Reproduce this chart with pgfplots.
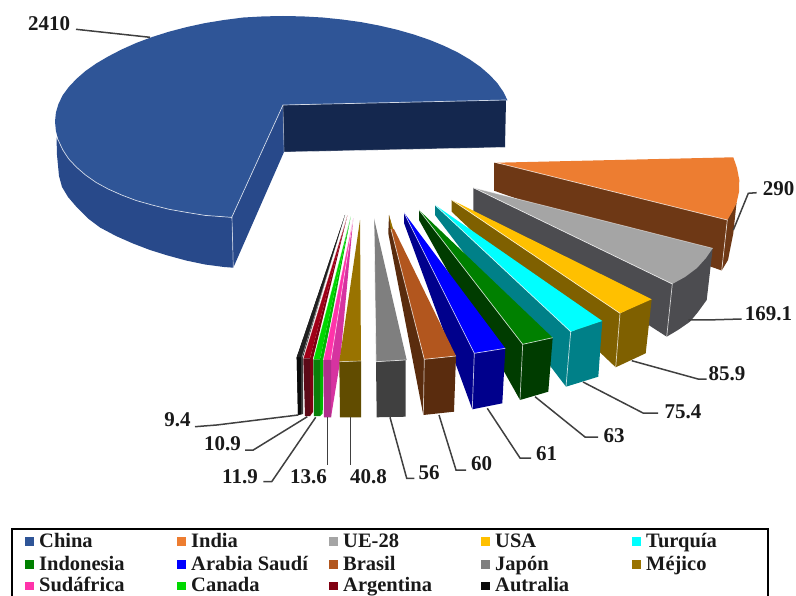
\documentclass[border=0pt]{standalone}
\usepackage{pgfplots}
\pgfplotsset{compat=1.18}
\usepackage{fontspec}
\setmainfont{Liberation Serif}
% slice colours
\definecolor{chinaT}{HTML}{2F5597}\definecolor{chinaS}{HTML}{28498A}\definecolor{chinaB}{HTML}{14274E}
\definecolor{indiaT}{HTML}{ED7D31}\definecolor{indiaS}{HTML}{6E3815}
\definecolor{ueT}{HTML}{A5A5A5}\definecolor{ueS}{HTML}{4C4C50}
\definecolor{usaT}{HTML}{FFC000}\definecolor{usaS}{HTML}{7F6000}
\definecolor{turT}{HTML}{00FFFF}\definecolor{turS}{HTML}{008088}
\definecolor{indoT}{HTML}{008000}\definecolor{indoS}{HTML}{003C00}
\definecolor{araT}{HTML}{0000FF}\definecolor{araS}{HTML}{00008C}
\definecolor{braT}{HTML}{B2561E}\definecolor{braS}{HTML}{5A2C0E}
\definecolor{japT}{HTML}{7F7F7F}\definecolor{japS}{HTML}{404040}
\definecolor{mexT}{HTML}{997300}\definecolor{mexS}{HTML}{614C00}
\definecolor{sudT}{HTML}{FF33AA}\definecolor{sudS}{HTML}{D633A0}\definecolor{sudF}{HTML}{B0308C}
\definecolor{canT}{HTML}{00D800}\definecolor{canS}{HTML}{00B800}\definecolor{canF}{HTML}{0A800A}
\definecolor{argT}{HTML}{A00018}\definecolor{argS}{HTML}{800012}\definecolor{argF}{HTML}{5C0A18}
\definecolor{ausT}{HTML}{202020}\definecolor{ausS}{HTML}{141414}\definecolor{ausF}{HTML}{0A0A0A}
\definecolor{leader}{HTML}{404040}
% a filled facet, a pale edge and a label leader, all plotted in image-like coordinates
\newcommand\facet[2]{\addplot[fill=#1,draw=none,mark=none,forget plot] coordinates {#2};}
\newcommand\edge[2][0.75]{\addplot[white,opacity=#1,line width=0.7pt,mark=none,forget plot] coordinates {#2};}
\newcommand\lead[1]{\addplot[leader,line width=1.5pt,mark=none,forget plot] coordinates {#1};}
\newcommand\val[2]{\node[font=\fontsize{21}{23}\selectfont\bfseries,text=black!90,inner sep=0pt] at (axis cs:#1) {#2};}
\newcommand\key[3]{%
  \addplot[only marks,mark=square*,mark size=3.8pt,color=#1,forget plot] coordinates {(#2)};
  \node[font=\fontsize{20.5}{22}\selectfont\bfseries,text=black!90,anchor=base west,inner sep=0pt] at (axis cs:#2) [xshift=10pt,yshift=-6pt] {#3};}
\begin{document}
\begin{tikzpicture}
\useasboundingbox (0,0) rectangle (796pt,596pt);
\begin{axis}[
  at={(0,0)}, anchor=south west,
  scale only axis, width=796pt, height=596pt,
  xmin=0, xmax=796, ymin=0, ymax=596, y dir=reverse,
  hide axis, clip=true]

% China, 2410
\facet{chinaS}{(56.5,137)(58.5,140.7)(62.8,149.9)(68.7,158.9)(76.4,167.1)(85.5,175)(96.2,182.5)(108.3,189.1)(121.8,195.1)(136.4,200.6)(152.1,205)(169,209.3)(186.6,212.4)(205,215.4)(224,216.8)(231.7,217.4)(233.3,267.7)(224,267)(205,264.5)(186,260.5)(167,255.3)(150,250)(133,243.5)(116,236)(100,227.5)(88,218.5)(77,207.5)(68,197)(62,187)(59,176)(57,155)}
\facet{chinaS}{(232,217)(283,105)(284,152)(233.3,267.7)}
\facet{chinaB}{(283,105)(506,100)(505,147.3)(284,152)}
\facet{chinaT}{(507.5,100.3)(503.2,91.6)(497.3,83.1)(489.6,74.9)(480.5,67)(469.8,59.5)(457.7,52.4)(444.2,45.9)(429.6,39.9)(413.8,34.5)(397,29.7)(379.4,25.6)(361,22.1)(342,19.5)(322.6,17.5)(302.9,16.4)(283,16)(263.1,16.4)(243.4,17.5)(224,20)(205,23.1)(186.6,27.1)(169,31.7)(152.2,37)(136.4,42.9)(121.8,49.4)(108.3,56.4)(96.2,63.5)(85.5,71)(76.4,78.9)(68.7,87.1)(62.8,95.1)(58.5,103.8)(55.9,112.6)(55,121.5)(55.9,130.9)(58.5,140.7)(62.8,149.9)(68.7,158.9)(76.4,167.1)(85.5,175)(96.2,182.5)(108.3,189.1)(121.8,195.1)(136.4,200.6)(152.1,205)(169,209.3)(186.6,212.4)(205,215.4)(224,216.8)(231.7,217.4)(283,105)}
\edge{(56.5,137)(58.5,140.7)(62.8,149.9)(68.7,158.9)(76.4,167.1)(85.5,175)(96.2,182.5)(108.3,189.1)(121.8,195.1)(136.4,200.6)(152.1,205)(169,209.3)(186.6,212.4)(205,215.4)(224,216.8)(231.7,217.4)(283,105)(506,100)}
\edge[0.6]{(232,217)(233.3,267.7)}
\edge[0.4]{(283,105)(284,152)(505,147.3)}

% India, 290
\facet{indiaS}{(494,162.7)(494,190.7)(721.7,270.5)(727.3,220)(736.5,203)}
\facet{indiaS}{(727.3,220)(736.5,203)(733.3,233.3)(728,260)(721.7,270.5)}
\facet{indiaT}{(496.7,162.7)(733.3,157.3)(737,168)(739.3,180)(739,192)(736.5,203)(732,212)(727.3,220)}
\edge{(496.7,162.7)(727.3,220)(721.7,270.5)}

% UE-28, 169.1
\facet{ueS}{(473.3,187.7)(473.3,211.7)(666.7,336.7)(678,330)(690,321.7)(698,312)(706.7,300)(712.7,248.3)(672.3,284)}
\facet{ueT}{(473.3,187.7)(712.7,248.3)(706,258)(697,268)(685,277)(672.3,284)}
\edge{(473.3,187.7)(672.3,284)(666.7,336.7)}
\edge[0.5]{(473.3,187.7)(712.7,248.3)}

% USA, 85.9
\facet{usaS}{(451.7,200)(451.7,211.7)(615.7,367.3)(645.7,353.3)(651.7,299.3)(620,313.3)}
\facet{usaT}{(451.7,200)(651.7,299.3)(620,313.3)}
\edge{(451.7,200)(620,313.3)(615.7,367.3)}

% Turquía, 75.4
\facet{turS}{(435,205)(435,215)(566,386.7)(598.3,376.7)(602.3,321)(570.7,331.7)}
\facet{turT}{(435,205)(602.3,321)(570.7,331.7)}
\edge{(435,205)(570.7,331.7)(566,386.7)}

% Indonesia, 63
\facet{indoS}{(419,210)(419,220)(520,400)(548.3,391.7)(552.7,337.7)(522.7,344.3)}
\facet{indoT}{(419,210)(552.7,337.7)(522.7,344.3)}
\edge{(419,210)(522.7,344.3)(520,400)}
\edge{(522.7,344.3)(552.7,337.7)}

% Arabia Saudí, 61
\facet{araS}{(404,212.7)(404,223)(472.3,409.3)(502.3,403.3)(505.3,348.3)(474.3,353.3)}
\facet{araT}{(404,212.7)(505.3,348.3)(474.3,353.3)}
\edge{(404,212.7)(474.3,353.3)(472.3,409.3)}
\edge{(474.3,353.3)(505.3,348.3)}

% Brasil, 60
\facet{braS}{(389,215)(388.3,233.3)(423.3,415)(454,411.7)(456,356)(424.3,359.3)}
\facet{mexT}{(389,215)(394,232)(391,232)}
\facet{braT}{(391,229)(394,229)(456,356)(424.3,359.3)}
\edge{(391,229)(424.3,359.3)(423.3,415)}
\edge{(424.3,359.3)(456,356)}

% Japón, 56
\facet{japT}{(374,218.3)(406.7,360)(376,361.7)}
\facet{japS}{(376,361.7)(405.7,360)(405.7,416.7)(376.7,417.3)}
\edge{(374,218.3)(376,361.7)(405.7,360)}

% Australia, 9.4
\facet{ausS}{(345,215)(296.7,357.3)(298,415)(303,414)(303,357.3)}
\facet{ausT}{(345,215)(296.7,357.3)(301.7,357.3)}
\facet{ausF}{(296.7,357.3)(301.7,357.3)(301.7,414)(298,415)}
\edge[0.5]{(345.5,215)(302,357.3)(302,414)}

% Argentina, 10.9
\facet{argS}{(347.3,215.7)(310,358.3)(310,416)(313,412)(313,359)}
\facet{argT}{(347.3,215.7)(303.3,358.3)(310,358.3)}
\facet{argF}{(303.3,358.3)(310,358.3)(310,416)(305,416)}
\edge[0.6]{(347.3,215.7)(303.3,358.3)}

% Canada, 11.9
\facet{canS}{(350.7,216.7)(320,359.3)(320,416)(322.7,413.3)(323.5,360)}
\facet{canT}{(350.7,216.7)(313.3,359.3)(320,359.3)}
\facet{canF}{(313.3,359.3)(320,359.3)(320,416)(314,416)}
\edge[0.6]{(350.7,216.7)(313.3,359.3)}

% Sudáfrica, 13.6
\facet{sudS}{(353.3,218.3)(331,360)(331,417.3)(340,362)}
\facet{sudT}{(353.3,218.3)(323.3,360)(331,360)}
\facet{sudF}{(323.3,360)(331,360)(331,417.3)(324,417.3)}
\edge[0.6]{(353.3,218.3)(323.3,360)}
\edge[0.6]{(353.3,218.3)(331,360)}

% Méjico, 40.8
\facet{mexT}{(360,220)(361,361)(339.3,361.7)}
\facet{mexS}{(339.3,361.7)(361,361)(361,417.3)(340,417.3)}
\edge[0.6]{(339.3,361.7)(361,361)}

% leaders
\lead{(76,29.3)(150,37.3)}
\lead{(756.7,192.7)(748.3,193.3)(733.3,230)}
\lead{(741.7,319)(706.7,320)(688.3,320)}
\lead{(706.7,379)(698,379)(631.7,360.7)}
\lead{(583,382)(643,413)(658,413)}
\lead{(535,396.7)(585,437)(598,437)}
\lead{(487.3,408.3)(520,458)(531,458)}
\lead{(439,415)(456,470)(466,470)}
\lead{(390,417.3)(406.7,478.3)(414.3,478.3)}
\lead{(350.3,417.3)(350.3,465)}
\lead{(327.7,417.3)(327.7,465)}
\lead{(315.7,417.3)(271.7,481.7)(263.3,481.7)}
\lead{(307.3,416.7)(253.3,450)(245,450)}
\lead{(298.3,415)(216.7,425)(195,426.7)}

% value labels
\val{49,23.3}{2410}
\val{778.5,188.3}{290}
\val{768.5,313.3}{169.1}
\val{727,373.3}{85.9}
\val{683,412}{75.4}
\val{614,436}{63}
\val{546.5,454}{61}
\val{481.5,464}{60}
\val{429,473}{56}
\val{368.5,476.7}{40.8}
\val{308.5,476.7}{13.6}
\val{240,476.7}{11.9}
\val{222.5,444}{10.9}
\val{177.5,420}{9.4}

% legend frame, open at the foot of the page
\addplot[black,line width=1.5pt,mark=none,forget plot] coordinates {(12,600)(12,529)(768,529)(768,600)};
\key{chinaT}{29,541}{China}
\key{indiaT}{181,541}{India}
\key{ueT}{333,541}{UE-28}
\key{usaT}{485,541}{USA}
\key{turT}{636,541}{Turquía}
\key{indoT}{29,564}{Indonesia}
\key{araT}{181,564}{Arabia Saudí}
\key{braT}{333,564}{Brasil}
\key{japT}{485,564}{Japón}
\key{mexT}{636,564}{Méjico}
\key{sudT}{29,585.5}{Sudáfrica}
\key{canT}{181,585.5}{Canada}
\key{argS}{333,585.5}{Argentina}
\key{ausF}{485,585.5}{Autralia}
\end{axis}
\end{tikzpicture}
\end{document}
